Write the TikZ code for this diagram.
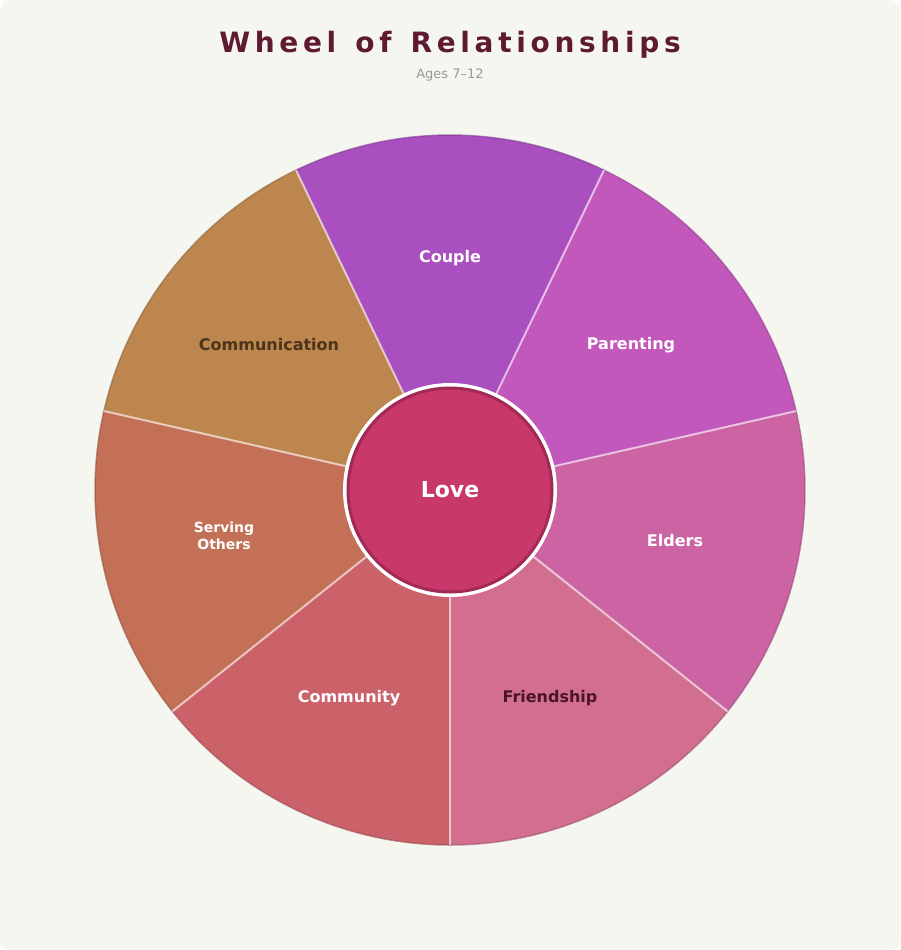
\documentclass[tikz,border=0pt]{standalone}
\usepackage{fontspec}
\setmainfont{DejaVu Sans}
\begin{document}
\begin{tikzpicture}[x=1pt,y=-1pt,
  lbl/.style={font=\bfseries\fontsize{16}{18}\selectfont,align=center,text=white},
  sep/.style={draw=white,draw opacity=0.6,line width=2pt}]
\definecolor{bg}{HTML}{F6F6F1}
\definecolor{cCouple}{HTML}{A94FBF}
\definecolor{cParent}{HTML}{C358BC}
\definecolor{cElders}{HTML}{CC64A4}
\definecolor{cFriend}{HTML}{D26E8F}
\definecolor{cComm}{HTML}{CC6269}
\definecolor{cServe}{HTML}{C47057}
\definecolor{cComn}{HTML}{BE864F}
\definecolor{cLove}{HTML}{C8386A}
\definecolor{cLoveD}{HTML}{A02A55}
\definecolor{ttl}{HTML}{5E1A30}
\useasboundingbox (0,0) rectangle (900,950);
\fill[white] (0,0) rectangle (900,950);
\fill[bg,rounded corners=10pt] (0,0) rectangle (900,950);
\def\R{355}
\foreach \a/\c in {64.29/cCouple,12.86/cParent,-38.57/cElders,-90/cFriend,218.57/cComm,167.14/cServe,115.71/cComn}{
  \pgfmathsetmacro\b{\a+51.43}
  \fill[\c] (450,490) -- ({450+\R*cos(\a)},{490-\R*sin(\a)}) arc[start angle=-\a,end angle=-\b,radius=\R] -- cycle;
  \draw[\c!75!black,line width=1.5pt,opacity=0.6] ({450+\R*cos(\a)},{490-\R*sin(\a)}) arc[start angle=-\a,end angle=-\b,radius=\R];
}
\foreach \a in {64.29,12.86,-38.57,-90,218.57,167.14,115.71}{
  \draw[sep] (450,490) -- ({450+\R*cos(\a)},{490-\R*sin(\a)});
}
\node[lbl] (couple) at (450,258) {Couple};
\node[lbl] (parent) at (631,345) {Parenting};
\node[lbl] (elders) at (675,541) {Elders};
\node[lbl,text=ttl!80!black] (friend) at (550,698) {Friendship};
\node[lbl] (commun) at (349,698) {Community};
\node[lbl,font=\bfseries\fontsize{14}{17}\selectfont] (serve) at (224,536) {Serving\\Others};
\node[lbl,text=brown!40!black] (comn) at (269,345) {Communication};
\fill[white] (450,490) circle (107);
\node[circle,minimum size=204pt,fill=cLove,draw=cLoveD,line width=3pt,text=white,font=\bfseries\fontsize{22}{24}\selectfont] (love) at (450,490) {Love};
\node[text=ttl,font=\bfseries\fontsize{28}{32}\selectfont] (title) at (450,45) {W\,h\,e\,e\,l\, \,o\,f\, \,R\,e\,l\,a\,t\,i\,o\,n\,s\,h\,i\,p\,s};
\node[text=gray!80,font=\fontsize{13}{15}\selectfont] (sub) at (450,75) {Ages 7–12};
\end{tikzpicture}
\end{document}
